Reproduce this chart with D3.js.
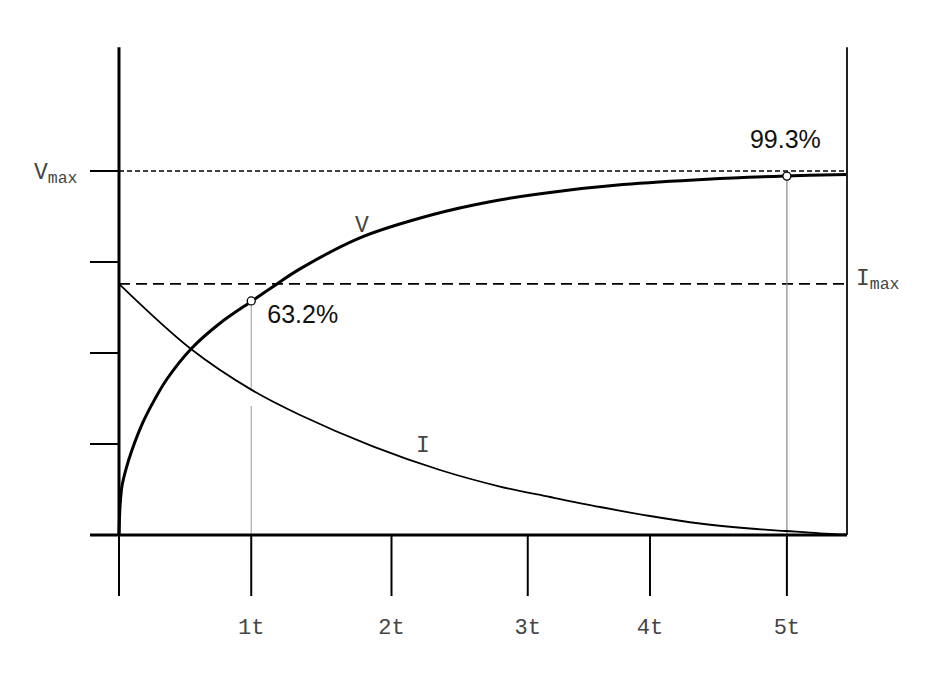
<!DOCTYPE html>
<html>
<head>
<meta charset="utf-8">
<script src="https://cdn.jsdelivr.net/npm/d3@7"></script>
<style>
  html, body { margin: 0; padding: 0; background: #fff; }
  svg { display: block; }
</style>
</head>
<body>
<div id="chart"></div>
<script>
// ---- data ----
const vTime  = [0, 0.0045, 0.0112, 0.0225, 0.0524, 0.0973, 0.1797, 0.2695, 0.3593, 0.539, 0.7486, 0.9957, 1.138, 1.355, 1.804, 2.351, 2.778, 3.227, 3.773, 4.402, 4.993, 5.45];
const vValue = [0, 0.055, 0.096, 0.135, 0.181, 0.2335, 0.310, 0.374, 0.4286, 0.511, 0.5797, 0.6429, 0.6786, 0.731, 0.8165, 0.8805, 0.9157, 0.941, 0.9626, 0.9775, 0.9863, 0.9904];

const iTime  = [0, 0.539, 0.9957, 1.355, 1.90, 2.403, 2.852, 3.227, 3.601, 3.975, 4.349, 4.723, 4.993, 5.2475, 5.45];
const iValue = [0.690, 0.511, 0.398, 0.3297, 0.2435, 0.1786, 0.1332, 0.1044, 0.0769, 0.0522, 0.0316, 0.0179, 0.011, 0.0047, 0.0014];

const xTickValues = [0.99, 2.04, 3.06, 3.975, 5.0];
const xTickLabels = ["1t", "2t", "3t", "4t", "5t"];
const yTickValues = [0.25, 0.5, 0.75, 1.0];

const vMax = 1.0;
const iMax = 0.69;
const markers = [
  { t: 0.99, v: 0.643, label: "63.2%" },
  { t: 5.0,  v: 0.986, label: "99.3%" }
];

// ---- layout ----
const W = 945, H = 673;
const x = d3.scaleLinear().domain([0, 5.45]).range([119, 847]);
const y = d3.scaleLinear().domain([0, 1]).range([535, 171]);
const yTop = 1.34;        // top of the vertical frame lines
const below = 61;         // tick extension below the baseline
const leftTickLen = 29;

const svg = d3.select("#chart").append("svg")
  .attr("width", W).attr("height", H);

const mono = "'Liberation Mono', 'Courier New', monospace";
const sans = "'Liberation Sans', Arial, sans-serif";
const labelColor = "#444";

// Vmax dotted line
svg.append("line")
  .attr("x1", x(0)).attr("x2", x(5.45))
  .attr("y1", y(vMax)).attr("y2", y(vMax))
  .attr("stroke", "#000").attr("stroke-width", 1.5)
  .attr("stroke-dasharray", "5,3");

// Imax dashed line
svg.append("line")
  .attr("x1", x(0)).attr("x2", x(5.45))
  .attr("y1", y(iMax)).attr("y2", y(iMax))
  .attr("stroke", "#000").attr("stroke-width", 1.8)
  .attr("stroke-dasharray", "11,6");

// grey drop lines from markers
const iAt1 = d3.scaleLinear().domain(iTime).range(iValue)(markers[0].t);
svg.append("line")
  .attr("x1", x(markers[0].t)).attr("x2", x(markers[0].t))
  .attr("y1", y(markers[0].v)).attr("y2", y(iAt1))
  .attr("stroke", "#aaa").attr("stroke-width", 1.2);
svg.append("line")
  .attr("x1", x(markers[0].t)).attr("x2", x(markers[0].t))
  .attr("y1", y(iAt1 - 0.045)).attr("y2", y(0))
  .attr("stroke", "#aaa").attr("stroke-width", 1.2);
svg.append("line")
  .attr("x1", x(markers[1].t)).attr("x2", x(markers[1].t))
  .attr("y1", y(markers[1].v)).attr("y2", y(0))
  .attr("stroke", "#888").attr("stroke-width", 1.2);

// curves
const line = d3.line()
  .x(d => x(d[0])).y(d => y(d[1]))
  .curve(d3.curveCatmullRom.alpha(0.5));

svg.append("path")
  .datum(iTime.map((t, k) => [t, iValue[k]]))
  .attr("d", line)
  .attr("fill", "none").attr("stroke", "#000").attr("stroke-width", 1.8);

svg.append("path")
  .datum(vTime.map((t, k) => [t, vValue[k]]))
  .attr("d", line)
  .attr("fill", "none").attr("stroke", "#000").attr("stroke-width", 3);

// frame: right line
svg.append("line")
  .attr("x1", x(5.45)).attr("x2", x(5.45))
  .attr("y1", y(yTop)).attr("y2", y(0))
  .attr("stroke", "#222").attr("stroke-width", 2);

// left axis (thick above baseline, thinner below)
svg.append("line")
  .attr("x1", x(0)).attr("x2", x(0))
  .attr("y1", y(yTop)).attr("y2", y(0))
  .attr("stroke", "#000").attr("stroke-width", 3);
svg.append("line")
  .attr("x1", x(0)).attr("x2", x(0))
  .attr("y1", y(0)).attr("y2", y(0) + below)
  .attr("stroke", "#000").attr("stroke-width", 2);

// left ticks
svg.selectAll(".ytick").data(yTickValues).enter().append("line")
  .attr("x1", x(0) - leftTickLen).attr("x2", x(0))
  .attr("y1", d => y(d)).attr("y2", d => y(d))
  .attr("stroke", "#000").attr("stroke-width", 2);

// baseline
svg.append("line")
  .attr("x1", x(0) - leftTickLen).attr("x2", x(5.45))
  .attr("y1", y(0)).attr("y2", y(0))
  .attr("stroke", "#000").attr("stroke-width", 3);

// x ticks below baseline
svg.selectAll(".xtick").data(xTickValues).enter().append("line")
  .attr("x1", d => x(d)).attr("x2", d => x(d))
  .attr("y1", y(0)).attr("y2", y(0) + below)
  .attr("stroke", "#000").attr("stroke-width", 2);

svg.selectAll(".xlabel").data(xTickValues).enter().append("text")
  .attr("x", d => x(d)).attr("y", 634)
  .attr("text-anchor", "middle")
  .attr("font-family", mono).attr("font-size", 22)
  .attr("fill", labelColor)
  .text((d, k) => xTickLabels[k]);

// markers
svg.selectAll(".marker").data(markers).enter().append("circle")
  .attr("cx", d => x(d.t)).attr("cy", d => y(d.v))
  .attr("r", 4)
  .attr("fill", "#fff").attr("stroke", "#000").attr("stroke-width", 1.3);

svg.append("text")
  .attr("x", x(markers[0].t) + 16).attr("y", 323)
  .attr("font-family", sans).attr("font-size", 25).attr("fill", "#111")
  .text(markers[0].label);
svg.append("text")
  .attr("x", x(markers[1].t) - 37).attr("y", 148)
  .attr("font-family", sans).attr("font-size", 25).attr("fill", "#111")
  .text(markers[1].label);

// Vmax label
const vm = svg.append("text")
  .attr("x", 34).attr("y", 179)
  .attr("font-family", mono).attr("font-size", 23).attr("fill", labelColor);
vm.append("tspan").text("V");
vm.append("tspan").attr("dy", 4).attr("font-size", 16.5).text("max");

// Imax label
const im = svg.append("text")
  .attr("x", 856).attr("y", 285)
  .attr("font-family", mono).attr("font-size", 23).attr("fill", labelColor);
im.append("tspan").text("I");
im.append("tspan").attr("dy", 4).attr("font-size", 16.5).text("max");

// curve labels
svg.append("text")
  .attr("x", 362).attr("y", 232).attr("text-anchor", "middle")
  .attr("font-family", mono).attr("font-size", 23).attr("fill", labelColor)
  .text("V");
svg.append("text")
  .attr("x", 423).attr("y", 452).attr("text-anchor", "middle")
  .attr("font-family", mono).attr("font-size", 23).attr("fill", labelColor)
  .text("I");
</script>
</body>
</html>
